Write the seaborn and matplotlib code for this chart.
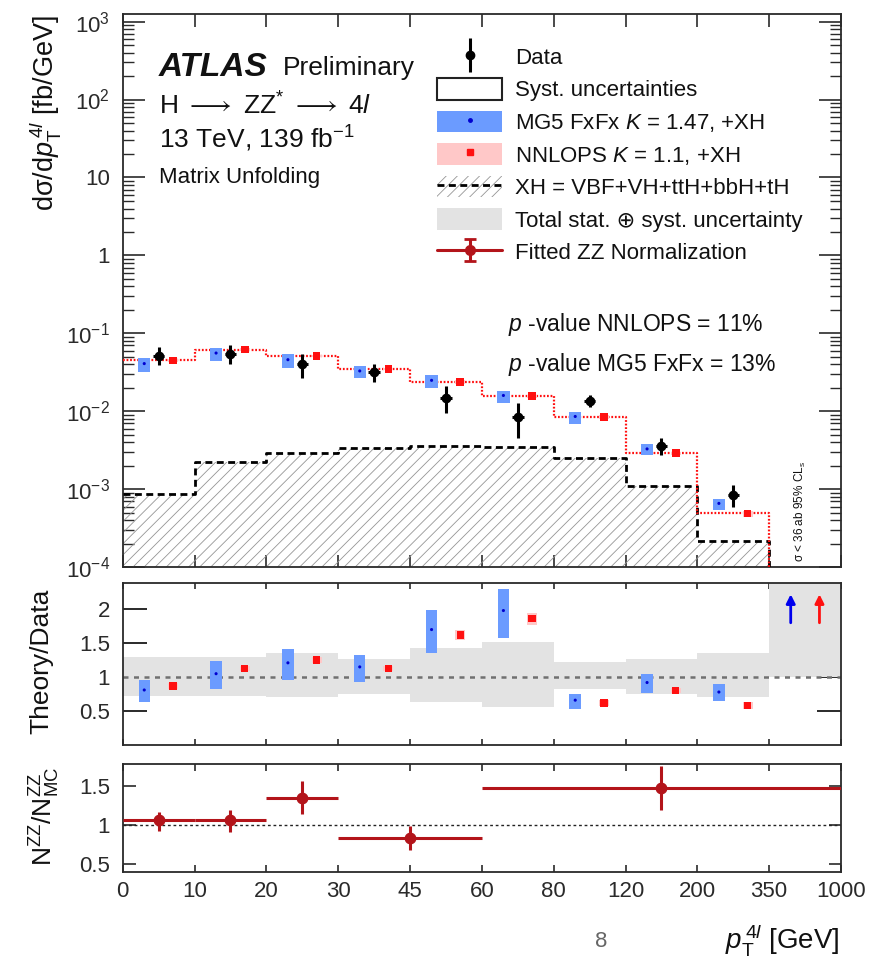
import numpy as np
import pandas as pd
import matplotlib
matplotlib.use('Agg')
import matplotlib.pyplot as plt
import seaborn as sns
from matplotlib.patches import Patch
from matplotlib.lines import Line2D
from matplotlib.ticker import FixedLocator, FixedFormatter, LogLocator, NullFormatter

# ---------------- data ----------------
bin_edge_labels = ['0', '10', '20', '30', '45', '60', '80', '120', '200', '350', '1000']

# unfolded data (fb/GeV), bins 0..8 (bin 9 has only an upper limit)
data_xs = [0.052, 0.055, 0.040, 0.0316, 0.0147, 0.0084, 0.0136, 0.0036, 0.00084]
data_hi = [0.066, 0.070, 0.054, 0.041, 0.021, 0.0127, 0.016, 0.0045, 0.00112]
data_lo = [0.039, 0.040, 0.0265, 0.0235, 0.0094, 0.0046, 0.0113, 0.00273, 0.00059]

# predictions (fb/GeV)
mg5_xs = [0.041, 0.056, 0.046, 0.033, 0.025, 0.016, 0.0086, 0.0033, 0.00066]
nnlops_xs = [0.045, 0.062, 0.051, 0.035, 0.0238, 0.0157, 0.0085, 0.0029, 0.00049, 0.0]
xh_xs = [0.00086, 0.00224, 0.00295, 0.0034, 0.0036, 0.0035, 0.0025, 0.00111, 0.000215, 0.0]

# Theory / Data ratios
mg5_ratio = [0.81, 1.05, 1.21, 1.15, 1.70, 1.98, 0.66, 0.92, 0.78]
mg5_ratio_lo = [0.64, 0.83, 0.96, 0.93, 1.35, 1.58, 0.53, 0.76, 0.65]
mg5_ratio_hi = [0.95, 1.23, 1.42, 1.33, 1.99, 2.29, 0.75, 1.05, 0.90]
nnlops_ratio = [0.87, 1.13, 1.25, 1.13, 1.62, 1.86, 0.62, 0.80, 0.58]
nnlops_ratio_err = [0.04, 0.04, 0.04, 0.04, 0.08, 0.09, 0.04, 0.04, 0.05]
band_lo = [0.725, 0.725, 0.70, 0.75, 0.64, 0.56, 0.82, 0.75, 0.71, 1.0]
band_hi = [1.30, 1.30, 1.35, 1.27, 1.43, 1.52, 1.22, 1.27, 1.36, 2.5]
arrow_from = [1.80, 1.80]   # MG5, NNLOPS in last bin (off-scale)
arrow_to = [2.22, 2.22]

# Fitted ZZ normalisation
zz_bin_lo = ['0', '10', '20', '30', '60']
zz_bin_hi = ['10', '20', '30', '60', '1000']
zz_val = [1.065, 1.065, 1.35, 0.83, 1.48]
zz_hi = [1.17, 1.20, 1.57, 0.99, 1.76]
zz_lo = [0.93, 0.91, 1.14, 0.68, 1.20]

# ---------------- style ----------------
sns.set_theme(style='ticks')
plt.rcParams['font.family'] = ['Liberation Sans', 'DejaVu Sans']
plt.rcParams['mathtext.fontset'] = 'custom'
plt.rcParams['mathtext.rm'] = 'Liberation Sans'
plt.rcParams['mathtext.it'] = 'Liberation Sans:italic'
plt.rcParams['mathtext.bf'] = 'Liberation Sans:bold'
plt.rcParams['mathtext.sf'] = 'Liberation Sans'
plt.rcParams['mathtext.fallback'] = 'stix'
plt.rcParams['hatch.linewidth'] = 0.6
plt.rcParams['axes.linewidth'] = 1.3
plt.rcParams['axes.edgecolor'] = '#2a2a2a'
plt.rcParams['xtick.color'] = '#2a2a2a'
plt.rcParams['ytick.color'] = '#2a2a2a'
plt.rcParams['text.color'] = '#111111'

BLUE_BOX = '#6b9bff'
BLUE_DOT = '#0000d0'
PINK_BOX = '#ffc8c8'
RED = '#ff1010'
ZZ_RED = '#b3141a'
GRAY_BAND = '#e3e3e3'
HATCH_GRAY = '#959595'

W, H = 885, 971
fig = plt.figure(figsize=(W / 100, H / 100), dpi=100)


def rect(x0, y0, x1, y1):
    return [x0 / W, 1 - y1 / H, (x1 - x0) / W, (y1 - y0) / H]


ax1 = fig.add_axes(rect(122.7, 14, 841, 567.3))
ax2 = fig.add_axes(rect(122.7, 582.7, 841, 745))
ax3 = fig.add_axes(rect(122.7, 764, 841, 871.7))

edges = np.arange(len(bin_edge_labels))
centers = edges[:-1] + 0.5
nb = len(data_xs)
floor = 1e-6

# ---------------- main panel ----------------
ax1.set_yscale('log')
xh_arr = np.clip(np.array(xh_xs), floor, None)
ax1.fill_between(edges, np.append(xh_arr, xh_arr[-1]), floor, step='post',
                 facecolor='none', edgecolor=HATCH_GRAY, hatch='///', linewidth=0, zorder=1)
df_xh = pd.DataFrame({'x': edges, 'y': np.append(xh_arr, xh_arr[-1])})
sns.lineplot(data=df_xh, x='x', y='y', drawstyle='steps-post', color='black',
             linestyle=(0, (2.5, 1.6)), lw=2.0, ax=ax1, zorder=3)

nn_arr = np.clip(np.array(nnlops_xs), floor, None)
df_nn = pd.DataFrame({'x': edges, 'y': np.append(nn_arr, nn_arr[-1])})
sns.lineplot(data=df_nn, x='x', y='y', drawstyle='steps-post', color=RED,
             linestyle=(0, (0.8, 0.8)), lw=1.6, ax=ax1, zorder=3)

mg5 = np.array(mg5_xs)
mg5_lo_main = mg5 * np.array(mg5_ratio_lo) / np.array(mg5_ratio)
mg5_hi_main = mg5 * np.array(mg5_ratio_hi) / np.array(mg5_ratio)
ax1.bar(centers[:nb] - 0.2, mg5_hi_main - mg5_lo_main, bottom=mg5_lo_main, width=0.17,
        color=BLUE_BOX, edgecolor='none', zorder=4)
sns.scatterplot(x=centers[:nb] - 0.2, y=mg5, marker='o', s=5, color=BLUE_DOT,
                edgecolor='none', ax=ax1, zorder=5)

nn = np.array(nnlops_xs[:nb])
nn_rel = np.array(nnlops_ratio_err) / np.array(nnlops_ratio)
ax1.bar(centers[:nb] + 0.2, 2 * nn * nn_rel, bottom=nn * (1 - nn_rel), width=0.14,
        color=PINK_BOX, edgecolor='none', zorder=4)
sns.scatterplot(x=centers[:nb] + 0.2, y=nn, marker='s', s=30, color=RED,
                edgecolor='none', ax=ax1, zorder=5)

d = np.array(data_xs)
ax1.errorbar(centers[:nb], d, yerr=[d - np.array(data_lo), np.array(data_hi) - d], xerr=0.08,
             fmt='o', color='black', ms=6, lw=2.2, capsize=0, zorder=6)

ax1.set_xlim(0, 10)
ax1.set_ylim(1e-4, 1.25e3)
major = [1e-4, 1e-3, 1e-2, 1e-1, 1, 10, 1e2, 1e3]
major_lbl = [r'$10^{-4}$', r'$10^{-3}$', r'$10^{-2}$', r'$10^{-1}$', '1', '10', r'$10^{2}$', r'$10^{3}$']
ax1.yaxis.set_major_locator(FixedLocator(major))
ax1.yaxis.set_major_formatter(FixedFormatter(major_lbl))
ax1.yaxis.set_minor_locator(LogLocator(base=10, subs=np.arange(2, 10), numticks=20))
ax1.yaxis.set_minor_formatter(NullFormatter())
ax1.set_xticks(edges)
ax1.tick_params(axis='y', which='major', direction='in', left=True, right=True, length=16,
                width=1.2, labelsize=16, pad=9)
ax1.tick_params(axis='y', which='minor', direction='in', left=True, right=True, length=8, width=1.0)
ax1.tick_params(axis='x', which='major', direction='in', top=True, bottom=True, length=9,
                width=1.2, labelbottom=False)
ax1.set_xlabel('')
ax1.set_ylabel('')

# legend
h_data = (Line2D([], [], color='black', marker='|', ms=24, mew=2.2, ls='none'),
          Line2D([], [], color='black', marker='o', ms=6, ls='none'))
h_syst = Patch(facecolor='white', edgecolor='#222222', lw=1.5)
h_mg5 = (Patch(facecolor=BLUE_BOX, edgecolor='none'),
         Line2D([], [], marker='o', ms=2.5, color=BLUE_DOT, ls='none'))
h_nn = (Patch(facecolor=PINK_BOX, edgecolor='none'),
        Line2D([], [], marker='s', ms=5, color=RED, ls='none'))
h_xh = (Patch(facecolor='none', edgecolor=HATCH_GRAY, hatch='///', lw=0),
        Line2D([], [], color='black', ls=(0, (2.5, 1.6)), lw=2))
h_tot = Patch(facecolor=GRAY_BAND, edgecolor='none')
h_zz_v = ax1.errorbar([np.nan], [np.nan], yerr=[1], fmt='o', color=ZZ_RED, ms=7,
                      lw=2.2, capsize=4, capthick=2)
h_zz = (Line2D([], [], color=ZZ_RED, lw=2.2), h_zz_v)
labels = ['Data', 'Syst. uncertainties', r'MG5 FxFx $K$ = 1.47, +XH', r'NNLOPS $K$ = 1.1, +XH',
          'XH = VBF+VH+ttH+bbH+tH', 'Total stat. ⊕ syst. uncertainty', 'Fitted ZZ Normalization']
ax1.legend([h_data, h_syst, h_mg5, h_nn, h_xh, h_tot, h_zz], labels,
           loc='upper left', bbox_to_anchor=(437 / W, 1 - 45.5 / H), bbox_transform=fig.transFigure,
           frameon=False, fontsize=16, handlelength=2.93, handleheight=1.13, labelspacing=0.41,
           handletextpad=0.6, borderpad=0, borderaxespad=0)

# ---------------- ratio panel ----------------
ax2.fill_between(edges, np.append(band_lo, band_lo[-1]), np.append(band_hi, band_hi[-1]),
                 step='post', color=GRAY_BAND, lw=0, zorder=1)
ax2.axhline(1, color='#707070', ls=(0, (2, 2.2)), lw=1.8, zorder=2)
mr = np.array(mg5_ratio)
ax2.bar(centers[:nb] - 0.2, np.array(mg5_ratio_hi) - np.array(mg5_ratio_lo), bottom=mg5_ratio_lo,
        width=0.16, color=BLUE_BOX, edgecolor='none', zorder=3)
sns.scatterplot(x=centers[:nb] - 0.2, y=mr, marker='o', s=5, color=BLUE_DOT, edgecolor='none',
                ax=ax2, zorder=4)
nr = np.array(nnlops_ratio)
ne = np.array(nnlops_ratio_err)
ax2.bar(centers[:nb] + 0.2, 2 * ne, bottom=nr - ne, width=0.14, color=PINK_BOX,
        edgecolor='none', zorder=3)
sns.scatterplot(x=centers[:nb] + 0.2, y=nr, marker='s', s=28, color=RED, edgecolor='none',
                ax=ax2, zorder=4)
for xoff, col, y0, y1 in zip([-0.2, 0.2], ['#0000ee', RED], arrow_from, arrow_to):
    ax2.annotate('', xy=(centers[-1] + xoff, y1), xytext=(centers[-1] + xoff, y0),
                 arrowprops=dict(arrowstyle='-|>', color=col, lw=2, mutation_scale=13,
                                 shrinkA=0, shrinkB=0), zorder=5)
ax2.set_xlim(0, 10)
ax2.set_ylim(0, 2.39)
ax2.set_yticks([0.5, 1, 1.5, 2])
ax2.set_yticklabels(['0.5', '1', '1.5', '2'])
ax2.set_xticks(edges)
ax2.tick_params(axis='y', direction='in', left=True, right=True, length=17, width=1.4,
                labelsize=16, pad=9)
ax2.tick_params(axis='x', direction='in', top=True, bottom=True, length=4, width=1.2,
                labelbottom=False)
ax2.set_xlabel('')
ax2.set_ylabel('')

# ---------------- ZZ normalisation panel ----------------
pos = {lbl: i for i, lbl in enumerate(bin_edge_labels)}
zlo = np.array([pos[v] for v in zz_bin_lo], dtype=float)
zhi = np.array([pos[v] for v in zz_bin_hi], dtype=float)
zc = (zlo + zhi) / 2
zv = np.array(zz_val)
ax3.axhline(1, color='#222222', ls=(0, (2, 2)), lw=1.0, zorder=1)
ax3.errorbar(zc, zv, xerr=(zhi - zlo) / 2, yerr=[zv - np.array(zz_lo), np.array(zz_hi) - zv],
             fmt='o', color=ZZ_RED, ms=7.5, lw=2.2, capsize=0, zorder=3)
ax3.set_xlim(0, 10)
ax3.set_ylim(0.4, 1.79)
ax3.set_yticks([0.5, 1, 1.5])
ax3.set_yticklabels(['0.5', '1', '1.5'])
ax3.set_xticks(edges)
ax3.set_xticklabels(bin_edge_labels)
ax3.tick_params(axis='y', direction='in', left=True, right=True, length=9, width=1.2,
                labelsize=16, pad=9)
ax3.tick_params(axis='x', direction='in', top=True, bottom=True, length=5, width=1.2,
                labelsize=16, pad=7)

# ---------------- texts ----------------
fig.text(159 / W, 1 - 67 / H, 'ATLAS', fontsize=24, fontweight='bold', style='italic',
         va='center', ha='left')
fig.text(283 / W, 1 - 68 / H, 'Preliminary', fontsize=19, va='center', ha='left')
fig.text(159 / W, 1 - 106 / H, r'H $\longrightarrow$ ZZ$^{*}$ $\longrightarrow$ 4$\mathit{l}$',
         fontsize=19, va='center', ha='left')
fig.text(159 / W, 1 - 139 / H, r'13 TeV, 139 fb$^{\mathsf{-1}}$', fontsize=19, va='center', ha='left')
fig.text(159 / W, 1 - 177 / H, 'Matrix Unfolding', fontsize=16, va='center', ha='left')
fig.text(508 / W, 1 - 325 / H, r'$p$ -value NNLOPS = 11%', fontsize=16.5, va='center', ha='left')
fig.text(508 / W, 1 - 364 / H, r'$p$ -value MG5 FxFx = 13%', fontsize=16.5, va='center', ha='left')
fig.text(800 / W, 1 - 511 / H, r'σ < 36 ab 95% CL$_{\mathrm{s}}$', fontsize=8.5, rotation=90,
         va='center', ha='center')

fig.text(45 / W, 1 - 15 / H, r'dσ/d$\mathit{p}_{\mathrm{T}}^{\,4\mathit{l}}$ [fb/GeV]', fontsize=19.5,
         rotation=90, va='top', ha='center')
fig.text(41 / W, 1 - 661 / H, 'Theory/Data', fontsize=19, rotation=90, va='center', ha='center')
fig.text(45 / W, 1 - 816 / H, r'N$^{\mathrm{ZZ}}$/N$^{\mathrm{ZZ}}_{\mathrm{MC}}$', fontsize=19,
         rotation=90, va='center', ha='center')
fig.text(840 / W, 1 - 940 / H, r'$\mathit{p}_{\mathrm{T}}^{\,4\mathit{l}}$ [GeV]', fontsize=20,
         va='center', ha='right')
fig.text(601 / W, 1 - 941 / H, '8', fontsize=16, color='#666666', va='center', ha='center')

fig.savefig('out.png', dpi=100)
